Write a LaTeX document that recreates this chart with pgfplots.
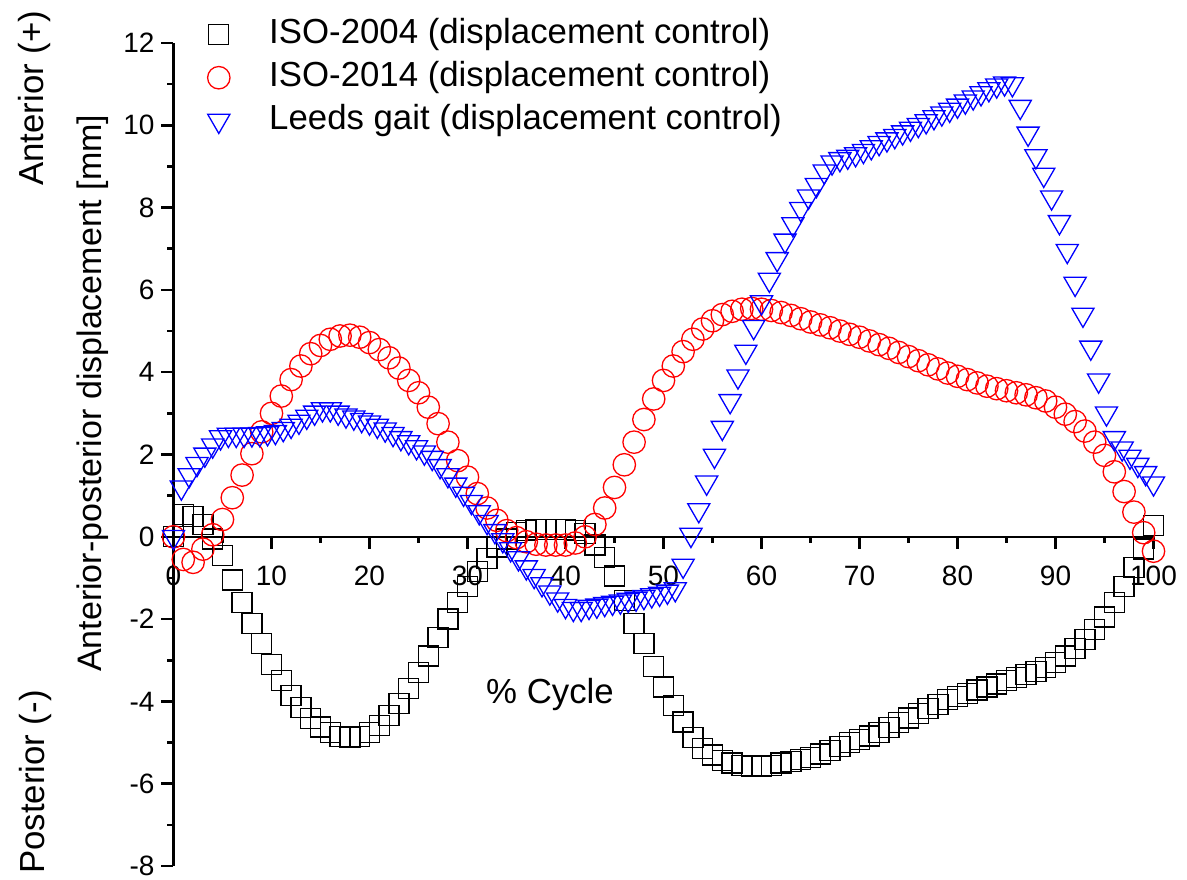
\documentclass[border=0pt]{standalone}
\usepackage{pgfplots}
\pgfplotsset{compat=1.18}
\usepackage{fontspec}
\setmainfont{Liberation Sans}

\begin{document}
\begin{tikzpicture}
\useasboundingbox (-86.75pt,-6.5pt) rectangle (506.75pt,433pt);
\begin{axis}[
  at={(0pt,0pt)}, anchor=south west,
  scale only axis, width=490pt, height=411.5pt,
  xmin=0, xmax=100, ymin=-8, ymax=12,
  clip=false,
  axis y line=left, axis x line=middle,
  hide obscured x ticks=false, hide obscured y ticks=false,
  axis line style={-, line width=1.3pt},
  every tick/.style={black, line width=1.3pt},
  tick align=outside,
  major tick length=6pt, minor tick length=3pt,
  xtick={0,10,...,100}, ytick={-8,-6,...,12},
  minor x tick num=1, minor y tick num=1,
  /pgf/number format/assume math mode=true,
  tick label style={font=\fontsize{14}{16}\selectfont},
  xticklabel style={yshift=-5pt},
  legend style={draw=none, fill=none, inner sep=0pt, row sep=5.5pt,
    at={(axis description cs:0.0291,1.030)}, anchor=north west,
    nodes={inner sep=0pt, text height=12.5pt, text depth=3.5pt, anchor=west},
    font=\fontsize{17.4}{20}\selectfont},
  legend cell align=left,
  legend image code/.code={\draw[#1] plot coordinates {(0pt,0pt)}; \path (-8pt,0pt) (25pt,0pt);},
]
\addplot[only marks, mark=square, mark size=5pt, black, mark options={line width=0.65pt}] coordinates {
(0,0.0) (1,0.55) (2,0.5) (3,0.3) (4,-0.05) (5,-0.45) (6,-1.05) (7,-1.6) (8,-2.1) (9,-2.6)
(10,-3.1) (11,-3.5) (12,-3.85) (13,-4.15) (14,-4.42) (15,-4.62) (16,-4.76) (17,-4.85) (18,-4.88) (19,-4.85)
(20,-4.75) (21,-4.58) (22,-4.35) (23,-4.05) (24,-3.68) (25,-3.3) (26,-2.9) (27,-2.45) (28,-2.0) (29,-1.6)
(30,-1.2) (31,-0.85) (32,-0.52) (33,-0.25) (34,-0.05) (35,0.1) (36,0.15) (37,0.17) (38,0.17) (39,0.17)
(40,0.17) (41,0.15) (42,0.08) (43,-0.2) (44,-0.5) (45,-0.95) (46,-1.55) (47,-2.1) (48,-2.6) (49,-3.15)
(50,-3.65) (51,-4.1) (52,-4.5) (53,-4.88) (54,-5.15) (55,-5.3) (56,-5.43) (57,-5.5) (58,-5.55) (59,-5.57)
(60,-5.57) (61,-5.55) (62,-5.5) (63,-5.46) (64,-5.41) (65,-5.36) (66,-5.28) (67,-5.2) (68,-5.1) (69,-5.0)
(70,-4.93) (71,-4.84) (72,-4.75) (73,-4.63) (74,-4.52) (75,-4.4) (76,-4.29) (77,-4.18) (78,-4.07) (79,-3.96)
(80,-3.88) (81,-3.8) (82,-3.72) (83,-3.65) (84,-3.58) (85,-3.5) (86,-3.42) (87,-3.35) (88,-3.27) (89,-3.18)
(90,-3.05) (91,-2.9) (92,-2.72) (93,-2.5) (94,-2.25) (95,-1.95) (96,-1.6) (97,-1.2) (98,-0.75) (99,-0.3)
(100,0.27)
};
\addlegendentry{ISO-2004 (displacement control)}
\addplot[only marks, mark=o, mark size=5.6pt, red, mark options={line width=0.65pt}] coordinates {
(0,0.0) (1,-0.55) (2,-0.62) (3,-0.3) (4,0.05) (5,0.42) (6,0.95) (7,1.5) (8,2.02) (9,2.55)
(10,3.0) (11,3.42) (12,3.82) (13,4.15) (14,4.45) (15,4.65) (16,4.8) (17,4.88) (18,4.9) (19,4.85)
(20,4.72) (21,4.55) (22,4.35) (23,4.1) (24,3.8) (25,3.5) (26,3.15) (27,2.75) (28,2.3) (29,1.85)
(30,1.45) (31,1.05) (32,0.7) (33,0.4) (34,0.15) (35,-0.02) (36,-0.12) (37,-0.18) (38,-0.2) (39,-0.2)
(40,-0.2) (41,-0.15) (42,0.0) (43,0.3) (44,0.7) (45,1.2) (46,1.75) (47,2.3) (48,2.85) (49,3.35)
(50,3.8) (51,4.15) (52,4.5) (53,4.8) (54,5.05) (55,5.25) (56,5.4) (57,5.48) (58,5.53) (59,5.55)
(60,5.53) (61,5.5) (62,5.45) (63,5.38) (64,5.3) (65,5.22) (66,5.15) (67,5.08) (68,5.0) (69,4.92)
(70,4.85) (71,4.76) (72,4.67) (73,4.58) (74,4.48) (75,4.38) (76,4.28) (77,4.18) (78,4.08) (79,3.98)
(80,3.9) (81,3.82) (82,3.74) (83,3.66) (84,3.6) (85,3.55) (86,3.5) (87,3.45) (88,3.38) (89,3.3)
(90,3.15) (91,2.98) (92,2.8) (93,2.57) (94,2.3) (95,1.98) (96,1.58) (97,1.1) (98,0.6) (99,0.1)
(100,-0.35)
};
\addlegendentry{ISO-2014 (displacement control)}
\addplot[only marks, mark=triangle, mark size=6.4pt, blue, mark options={rotate=180, line width=0.65pt}] coordinates {
(0.0,0.0) (0.8,1.2) (1.6,1.5) (2.4,1.77) (3.2,2.0) (4.0,2.22) (4.8,2.42) (5.6,2.48) (6.4,2.48) (7.2,2.48)
(8.0,2.49) (8.8,2.5) (9.6,2.52) (10.4,2.55) (11.2,2.62) (12.0,2.7) (12.8,2.8) (13.6,2.92) (14.4,3.02) (15.2,3.1)
(16.0,3.1) (16.8,3.02) (17.6,2.95) (18.4,2.9) (19.2,2.84) (20.0,2.78) (20.8,2.7) (21.6,2.61) (22.4,2.5) (23.2,2.4)
(24.0,2.3) (24.8,2.18) (25.6,2.05) (26.4,1.92) (27.2,1.72) (28.0,1.5) (28.8,1.27) (29.6,1.05) (30.4,0.85) (31.2,0.6)
(32.0,0.36) (32.8,0.14) (33.6,-0.08) (34.4,-0.3) (35.2,-0.52) (36.0,-0.74) (36.8,-0.95) (37.6,-1.15) (38.4,-1.35) (39.2,-1.52)
(40.0,-1.68) (40.8,-1.75) (41.6,-1.75) (42.4,-1.7) (43.2,-1.67) (44.0,-1.63) (44.8,-1.6) (45.6,-1.57) (46.4,-1.53) (47.2,-1.5)
(48.0,-1.46) (48.8,-1.42) (49.6,-1.38) (50.4,-1.33) (51.2,-1.27) (52.0,-0.7) (52.8,0.05) (53.6,0.65) (54.4,1.32) (55.2,1.97)
(56.0,2.65) (56.8,3.3) (57.6,3.9) (58.4,4.5) (59.2,5.1) (60.0,5.7) (60.8,6.25) (61.6,6.75) (62.4,7.2) (63.2,7.6)
(64.0,7.97) (64.8,8.27) (65.6,8.55) (66.4,8.88) (67.2,9.1) (68.0,9.18) (68.8,9.24) (69.6,9.3) (70.4,9.38) (71.2,9.47)
(72.0,9.57) (72.8,9.66) (73.6,9.74) (74.4,9.83) (75.2,9.92) (76.0,10.01) (76.8,10.1) (77.6,10.2) (78.4,10.29) (79.2,10.38)
(80.0,10.48) (80.8,10.58) (81.6,10.68) (82.4,10.78) (83.2,10.88) (84.0,10.97) (84.8,11.02) (85.6,11.0) (86.4,10.45) (87.2,9.8)
(88.0,9.25) (88.8,8.8) (89.6,8.25) (90.4,7.65) (91.2,6.95) (92.0,6.15) (92.8,5.4) (93.6,4.6) (94.4,3.8) (95.2,3.0)
(96.0,2.4) (96.8,2.15) (97.6,1.95) (98.4,1.75) (99.2,1.55) (100.0,1.3)
};
\addlegendentry{Leeds gait (displacement control)}
\node[rotate=90, font=\fontsize{17}{20}\selectfont] at (axis description cs:-0.0827,0.5745) {Anterior-posterior displacement [mm]};
\node[rotate=90, font=\fontsize{17.4}{20}\selectfont] at (axis description cs:-0.1423,0.9328) {Anterior (+)};
\node[rotate=90, font=\fontsize{17.4}{20}\selectfont] at (axis description cs:-0.1413,0.102) {Posterior (-)};
\node[font=\fontsize{17.4}{20}\selectfont] at (axis description cs:0.3842,0.2089) {\% Cycle};
\end{axis}
\end{tikzpicture}
\end{document}
